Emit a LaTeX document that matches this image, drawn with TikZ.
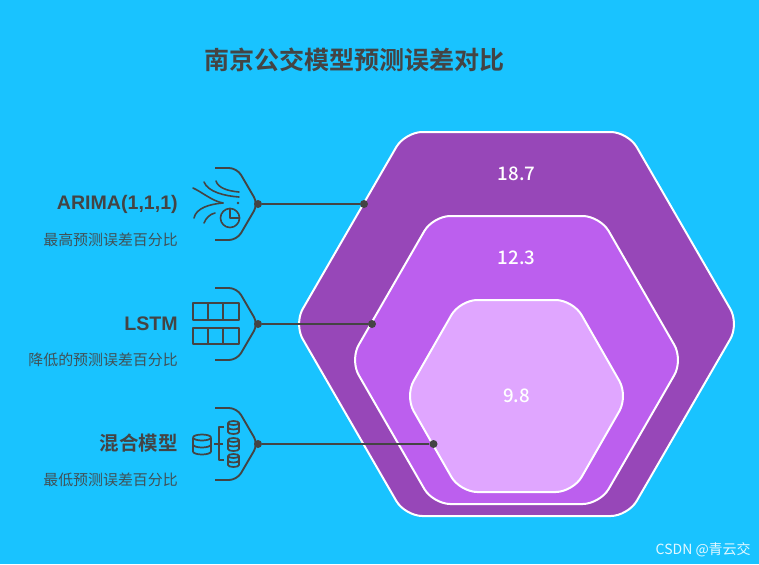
\documentclass[tikz,border=0pt]{standalone}
\usepackage{fontspec}
\setmainfont{Liberation Sans}
\newfontfamily\cjk{Noto Sans CJK SC}
\newfontfamily\cjkb{Noto Sans CJK SC Bold}
\newfontfamily\cjkm{Noto Sans CJK SC Medium}
\definecolor{bgc}{HTML}{19C3FF}
\definecolor{ink}{HTML}{444444}
\definecolor{hexa}{HTML}{9747B8}
\definecolor{hexb}{HTML}{BC5FEE}
\definecolor{hexc}{HTML}{E0A6FF}
\tikzset{
 hexshape/.style={draw=white,line width=1.5pt,rounded corners=13pt,line join=round},
 titletext/.style={text=ink,inner sep=0pt,font=\fontsize{18.8}{20}\cjkb},
 headlabel/.style={text=ink,inner sep=0pt,anchor=east,font=\fontsize{14.7}{16}\selectfont\bfseries},
 headcjk/.style={text=ink,inner sep=0pt,anchor=east,font=\fontsize{14.6}{16}\cjkb},
 sublabel/.style={text=ink!90!bgc,inner sep=0pt,anchor=east,font=\fontsize{11.2}{13}\cjk},
 valtext/.style={text=white,inner sep=0pt,font=\fontsize{14}{15}\cjkm},
 jointdot/.style={circle,fill=ink,inner sep=0pt,minimum size=6pt},
 conn/.style={draw=ink,line width=1.35pt},
 brace/.style={draw=ink,line width=1.4pt,rounded corners=6pt},
 icon/.style={draw=ink,line width=1.2pt,line cap=round,line join=round},
 iconb/.style={draw=ink,line width=1.3pt,line join=round},
}
\begin{document}
\begin{tikzpicture}[x=0.75pt,y=-0.75pt]
\useasboundingbox (0,0) rectangle (759,564);
\fill[bgc] (0,0) rectangle (759,564);
% hexagons
\draw[hexshape,fill=hexa] (405,132) -- (628,132) -- (739,324) -- (628,516) -- (405,516) -- (294,324) -- cycle;
\draw[hexshape,fill=hexb] (433,216) -- (600,216) -- (683,360) -- (600,504) -- (433,504) -- (350,360) -- cycle;
\draw[hexshape,fill=hexc] (460,300) -- (573,300) -- (628,396) -- (573,492) -- (460,492) -- (405,396) -- cycle;
\node[titletext] (title) at (354.5,60) {南京公交模型预测误差对比};
\node[valtext] (v1) at (516.5,173.5) {18.7};
\node[valtext] (v2) at (516.5,257.5) {12.3};
\node[valtext] (v3) at (516.5,395.5) {9.8};
% labels
\node[headlabel] (l1) at (178,204) {ARIMA(1,1,1)};
\node[sublabel] (s1) at (178,240) {最高预测误差百分比};
\node[headlabel] (l2) at (178,324) {LSTM};
\node[sublabel] (s2) at (178,360) {降低的预测误差百分比};
\node[headcjk] (l3) at (178,443) {混合模型};
\node[sublabel] (s3) at (178,480) {最低预测误差百分比};
% brackets and connectors
\node[jointdot] (j1) at (258,204) {};
\node[jointdot] (e1) at (364,204) {};
\node[jointdot] (j2) at (258,324) {};
\node[jointdot] (e2) at (372,324) {};
\node[jointdot] (j3) at (258,444) {};
\node[jointdot] (e3) at (433.5,444) {};
\draw[conn] (j1) -- (e1);
\draw[conn] (j2) -- (e2);
\draw[conn] (j3) -- (e3);
\coordinate (a1) at (215,168); \coordinate (b1) at (237,168);
\coordinate (c1) at (237,240); \coordinate (d1) at (215,240);
\coordinate (a2) at (215,288); \coordinate (b2) at (237,288);
\coordinate (c2) at (237,360); \coordinate (d2) at (215,360);
\coordinate (a3) at (215,408); \coordinate (b3) at (237,408);
\coordinate (c3) at (237,480); \coordinate (d3) at (215,480);
\draw[brace] (a1) -- (b1) -- (j1.center) -- (c1) -- (d1);
\draw[brace] (a2) -- (b2) -- (j2.center) -- (c2) -- (d2);
\draw[brace] (a3) -- (b3) -- (j3.center) -- (c3) -- (d3);
% icon 1
\draw[icon] (216,181) .. controls (218,188) and (228,191) .. (239,192);
\draw[icon] (204,182) .. controls (208,192) and (225,196) .. (239,197);
\draw[icon] (193,188) .. controls (202,192) and (212,201) .. (223,203);
\draw[icon] (194,218) .. controls (196,208) and (210,204) .. (223,203);
\draw[icon] (204,223) .. controls (206,218) and (210,214) .. (215,213);
\fill[ink] (238,203) circle[radius=1.3];
\draw[icon] (230,218) circle[radius=9.5];
\draw[icon] (230,208.5) -- (230,218) -- (239.5,218);
% icon 2
\draw[iconb] (193,303) rectangle (239,320);
\draw[iconb] (193,328) rectangle (239,344);
\draw[iconb] (208,303) -- (208,320) (223,303) -- (223,320);
\draw[iconb] (208,328) -- (208,344) (223,328) -- (223,344);
% icon 3
\foreach \cx/\cy/\rx/\hh/\ry in {202/434.5/9/20/3, 233.5/421/5.5/13/2, 233.5/438/5.5/13/2, 233.5/454/5.5/13/2}{
  \draw[iconb] (\cx,\cy+\ry) ellipse[x radius=\rx,y radius=\ry];
  \draw[iconb] (\cx-\rx,\cy+\ry) -- (\cx-\rx,\cy+\hh-\ry) arc[start angle=180,end angle=360,x radius=\rx,y radius=-\ry] -- (\cx+\rx,\cy+\ry);
  \draw[iconb] (\cx-\rx,\cy+\hh/2) arc[start angle=180,end angle=360,x radius=\rx,y radius=-\ry];
}
\draw[iconb] (214,444) -- (223,444);
\draw[iconb] (224,427) -- (219,427) -- (219,460) -- (224,460);
% watermark
\node[text=white!88!bgc,inner sep=0pt,anchor=east,font=\fontsize{10.5}{12}\cjk] (wm) at (751,550) {CSDN @青云交};
\end{tikzpicture}
\end{document}
